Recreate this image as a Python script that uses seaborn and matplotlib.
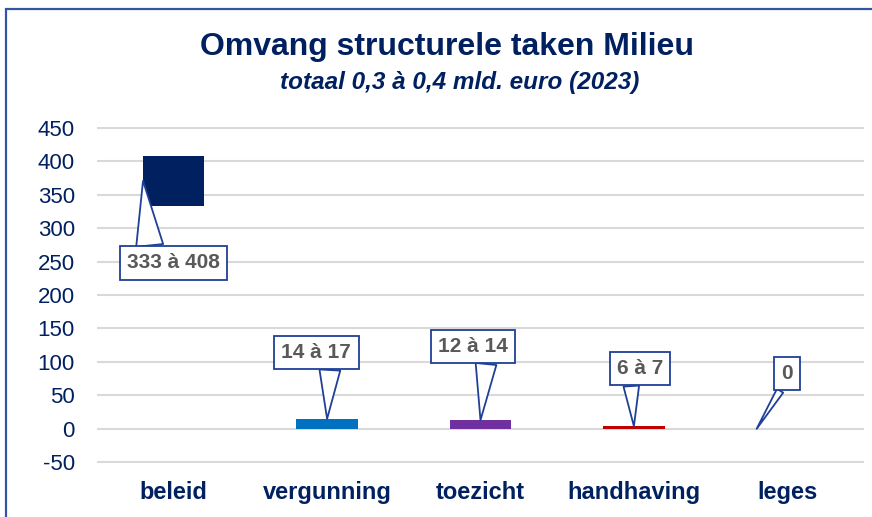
import matplotlib
matplotlib.use("Agg")
import matplotlib.pyplot as plt
import numpy as np
import pandas as pd
import seaborn as sns
from matplotlib.patches import Rectangle

# data
categories = ['beleid', 'vergunning', 'toezicht', 'handhaving', 'leges']
bar_low = [333, 0, 0, 0, 0]
bar_high = [408, 15, 13, 4, 0]
range_low = [333, 14, 12, 6, 0]
range_high = [408, 17, 14, 7, 0]
bar_colors = ['#002060', '#0070C0', '#7030A0', '#C00000', '#FFFFFF']
y_ticks = [-50, 0, 50, 100, 150, 200, 250, 300, 350, 400, 450]

title = 'Omvang structurele taken Milieu'
subtitle = 'totaal 0,3 à 0,4 mld. euro (2023)'

navy = '#002060'
box_edge = '#1F4096'

sns.set_theme(style='white')
plt.rcParams['font.family'] = ['Liberation Sans', 'DejaVu Sans']
plt.rcParams['axes.unicode_minus'] = False

df = pd.DataFrame({
    'taak': categories,
    'hoogte': np.array(bar_high) - np.array(bar_low),
})

fig = plt.figure(figsize=(8.72, 5.17), dpi=100)
ax = fig.add_axes([97 / 872, 1 - 463 / 517, 767 / 872, (463 - 127) / 517])

sns.barplot(data=df, x='taak', y='hoogte', hue='taak', palette=bar_colors,
            width=0.4, legend=False, ax=ax, saturation=1)
# floating bars: shift each bar up to its lower bound
for patch, lo in zip(ax.patches, bar_low):
    patch.set_y(lo)
    patch.set_edgecolor('none')

ax.set_ylim(-51, 451)
ax.set_xlim(-0.5, 4.5)
ax.set_yticks(y_ticks)
ax.yaxis.grid(True, color='#D9D9D9', lw=1.5)
ax.set_axisbelow(True)
sns.despine(ax=ax, left=True, bottom=True)
ax.set_xlabel('')
ax.set_ylabel('')
ax.tick_params(axis='y', length=0, pad=16, labelsize=16, labelcolor=navy)
ax.tick_params(axis='x', length=0, pad=13, labelsize=17, labelcolor=navy)
for lab in ax.get_xticklabels():
    lab.set_fontweight('bold')

# callout labels
label_pos = [(0.0, 248), (0.93, 114), (1.95, 123), (3.04, 90), (4.0, 83)]
label_rel = [(0.25, 1.0), (0.7, 0.0), (0.7, 0.0), (0.3, 0.0), (0.3, 0.0)]
tail_w = [1.3, 1.0, 1.0, 0.75, 0.35]
tip_dx = [-0.2, 0.0, 0.0, 0.0, -0.2]
for i, (lo, hi) in enumerate(zip(range_low, range_high)):
    txt = f'{lo} à {hi}' if hi != lo else f'{lo}'
    if i == 0:
        tip_y = (bar_low[i] + bar_high[i]) / 2
    else:
        tip_y = bar_high[i]
    ax.annotate(txt, xy=(i + tip_dx[i], tip_y), xytext=label_pos[i],
                ha='center', va='center', fontsize=15, fontweight='bold',
                color='#595959',
                bbox=dict(boxstyle='square,pad=0.35', fc='white',
                          ec=box_edge, lw=1.3),
                arrowprops=dict(arrowstyle=f'wedge,tail_width={tail_w[i]}',
                                fc='white', ec=box_edge, lw=1.3,
                                relpos=label_rel[i],
                                shrinkA=0, shrinkB=0))

fig.text(0.513, 0.909, title, ha='center', va='center', fontsize=23,
         fontweight='bold', color=navy)
fig.text(0.527, 0.841, subtitle, ha='center', va='center', fontsize=17.5,
         fontweight='bold', fontstyle='italic', color=navy)

# outer frame (left and top visible)
fig.patches.append(Rectangle((5.5 / 872, -0.2), 2, 1.2 - 8.5 / 517,
                             transform=fig.transFigure, fill=False,
                             ec='#2F55A4', lw=1.6))

fig.savefig('out.png', dpi=100, facecolor='white')
